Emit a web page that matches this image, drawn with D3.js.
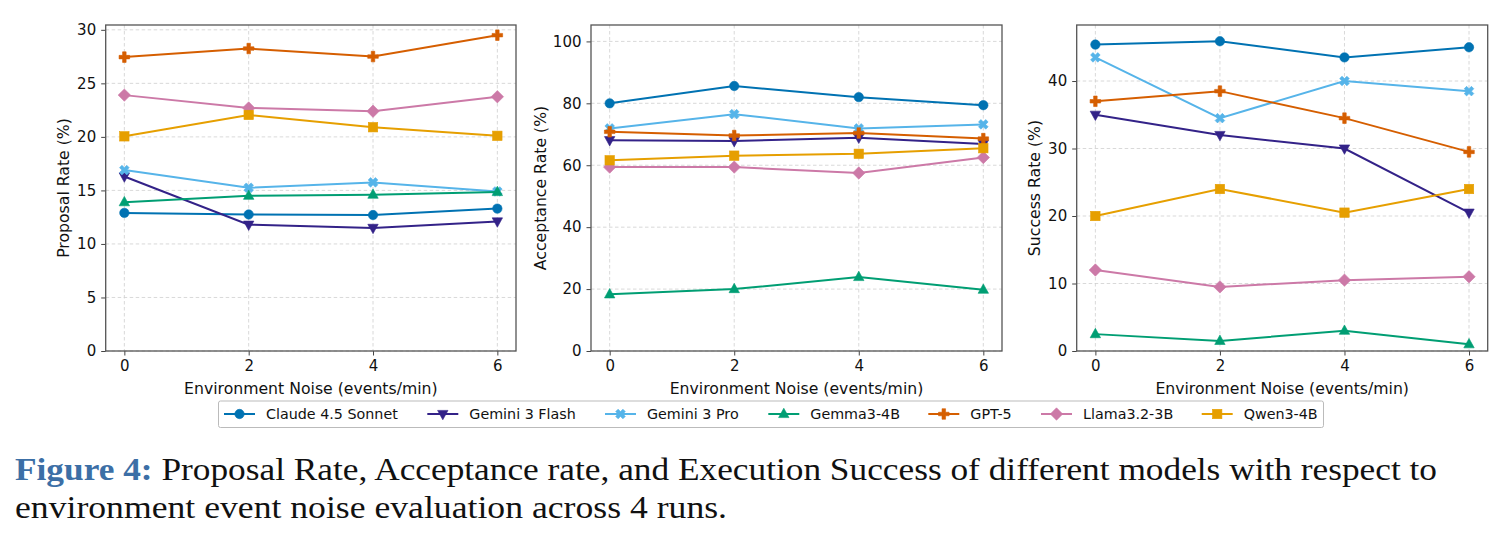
<!DOCTYPE html>
<html>
<head>
<meta charset="utf-8">
<script src="https://cdn.jsdelivr.net/npm/d3@7"></script>
<style>
  body { margin: 0; background: #fff; }
  svg { display: block; }
</style>
</head>
<body>
<div id="chart"></div>
<script>
// noise levels (events/min)
const noise = [0, 2, 4, 6];

const models = ["Claude 4.5 Sonnet", "Gemini 3 Flash", "Gemini 3 Pro", "Gemma3-4B", "GPT-5", "Llama3.2-3B", "Qwen3-4B"];
const colors = ["#0072B2", "#332288", "#56B4E9", "#009E73", "#D55E00", "#CC79A7", "#E69F00"];
const markers = ["circle", "triangleDown", "x", "triangleUp", "plus", "diamond", "square"];

// one row per model, same order as `models`
const proposalRate = [
  [12.9, 12.75, 12.7, 13.3],
  [16.3, 11.8, 11.5, 12.1],
  [16.9, 15.25, 15.75, 14.9],
  [13.9, 14.5, 14.6, 14.85],
  [27.45, 28.25, 27.5, 29.5],
  [23.9, 22.7, 22.4, 23.75],
  [20.05, 22.05, 20.9, 20.1]
];
const acceptanceRate = [
  [80.0, 85.6, 82.0, 79.4],
  [68.1, 67.8, 68.9, 66.9],
  [71.9, 76.5, 71.9, 73.2],
  [18.3, 20.0, 23.9, 19.8],
  [70.8, 69.6, 70.4, 68.6],
  [59.4, 59.4, 57.5, 62.5],
  [61.6, 63.1, 63.7, 65.5]
];
const successRate = [
  [45.4, 45.9, 43.5, 45.0],
  [35.0, 32.0, 30.0, 20.5],
  [43.5, 34.5, 40.0, 38.5],
  [2.5, 1.5, 3.0, 1.0],
  [37.0, 38.5, 34.5, 29.5],
  [12.0, 9.5, 10.5, 11.0],
  [20.0, 24.0, 20.5, 24.0]
];

const yLabels = ["Proposal Rate (%)", "Acceptance Rate (%)", "Success Rate (%)"];
const yTicks = [d3.range(0, 31, 5), d3.range(0, 101, 20), d3.range(0, 41, 10)];
const yMax = [30.45, 105.3, 48.3];
const xLabel = "Environment Noise (events/min)";

const W = 1509, H = 538;
const svg = d3.select("#chart").append("svg")
  .attr("width", W).attr("height", H)
  .style("font-family", "'DejaVu Sans', sans-serif");

const frames = [
  {left: 105.7, right: 516, labelX: 63.3},
  {left: 591, right: 1002, labelX: 540},
  {left: 1076.7, right: 1487.7, labelX: 1034}
];
const plotTop = 25, plotBottom = 351;
const panelData = [proposalRate, acceptanceRate, successRate];

function markerPath(kind, g, color) {
  let m;
  if (kind === "circle") {
    m = g.append("circle").attr("r", 4.7);
  } else if (kind === "square") {
    m = g.append("rect").attr("x", -4.7).attr("y", -4.7).attr("width", 9.4).attr("height", 9.4);
  } else if (kind === "diamond") {
    m = g.append("path").attr("d", "M0,-6.2L6.2,0L0,6.2L-6.2,0Z");
  } else if (kind === "triangleUp") {
    m = g.append("path").attr("d", "M0,-5.8L5.2,3.6L-5.2,3.6Z");
  } else if (kind === "triangleDown") {
    m = g.append("path").attr("d", "M0,5.8L5.2,-3.6L-5.2,-3.6Z");
  } else if (kind === "plus") {
    m = g.append("path").attr("d", d3.symbol(d3.symbolCross, 62)());
  } else {
    m = g.append("path").attr("d", d3.symbol(d3.symbolCross, 58)()).attr("transform", "rotate(45)");
  }
  m.attr("fill", color).attr("stroke", color).attr("stroke-width", 0.6);
}

frames.forEach((f, p) => {
  const x = d3.scaleLinear().domain([-0.3, 6.3]).range([f.left, f.right]);
  const y = d3.scaleLinear().domain([0, yMax[p]]).range([plotBottom, plotTop]);
  const g = svg.append("g");

  // grid
  g.append("g").selectAll("line").data(noise).join("line")
    .attr("x1", d => x(d)).attr("x2", d => x(d))
    .attr("y1", plotTop).attr("y2", plotBottom)
    .attr("stroke", "#cfcfcf").attr("stroke-width", 0.8).attr("stroke-dasharray", "3.5,2.5");
  g.append("g").selectAll("line").data(yTicks[p]).join("line")
    .attr("x1", f.left).attr("x2", f.right)
    .attr("y1", d => y(d)).attr("y2", d => y(d))
    .attr("stroke", "#cfcfcf").attr("stroke-width", 0.8).attr("stroke-dasharray", "3.5,2.5");

  // axes
  const ax = g.append("g").attr("transform", `translate(0,${plotBottom})`)
    .call(d3.axisBottom(x).tickValues(noise).tickFormat(d3.format("d")).tickSize(4.5).tickPadding(5));
  const ay = g.append("g").attr("transform", `translate(${f.left},0)`)
    .call(d3.axisLeft(y).tickValues(yTicks[p]).tickFormat(d3.format("d")).tickSize(4.5).tickPadding(5));
  [ax, ay].forEach(a => {
    a.select(".domain").remove();
    a.selectAll(".tick line").attr("stroke", "#444").attr("stroke-width", 1);
    a.selectAll(".tick text").attr("fill", "#111").style("font-size", "15px")
      .style("font-family", "'DejaVu Sans', sans-serif");
  });

  // series
  panelData[p].forEach((vals, i) => {
    const pts = noise.map((n, k) => [n, vals[k]]);
    g.append("path").datum(pts)
      .attr("fill", "none").attr("stroke", colors[i]).attr("stroke-width", 2)
      .attr("d", d3.line().x(d => x(d[0])).y(d => y(d[1])));
    pts.forEach(d => {
      const mg = g.append("g").attr("transform", `translate(${x(d[0])},${y(d[1])})`);
      markerPath(markers[i], mg, colors[i]);
    });
  });

  // frame
  g.append("rect").attr("x", f.left).attr("y", plotTop)
    .attr("width", f.right - f.left).attr("height", plotBottom - plotTop)
    .attr("fill", "none").attr("stroke", "#555").attr("stroke-width", 1.3);

  // labels
  g.append("text").attr("x", (f.left + f.right) / 2).attr("y", 394)
    .attr("text-anchor", "middle").style("font-size", "15.7px").attr("fill", "#111")
    .text(xLabel);
  g.append("text")
    .attr("transform", `translate(${f.labelX},${(plotTop + plotBottom) / 2}) rotate(-90)`)
    .attr("text-anchor", "middle").attr("dy", "0.35em")
    .style("font-size", "15.7px").attr("fill", "#111")
    .text(yLabels[p]);
});

const legendX = [224, 427.3, 605, 768.3, 928.3, 1041, 1201.7];
const lg = svg.append("g");
lg.append("rect").attr("x", 218.5).attr("y", 401)
  .attr("width", 1105).attr("height", 26.5).attr("rx", 2)
  .attr("fill", "#fff").attr("stroke", "#bbb").attr("stroke-width", 1);
models.forEach((m, i) => {
  const lx = legendX[i];
  const e = lg.append("g");
  e.append("line").attr("x1", lx).attr("x2", lx + 31).attr("y1", 414).attr("y2", 414)
    .attr("stroke", colors[i]).attr("stroke-width", 2);
  const mg = e.append("g").attr("transform", `translate(${lx + 15.5},414)`);
  markerPath(markers[i], mg, colors[i]);
  e.append("text").attr("x", lx + 42).attr("y", 419)
    .style("font-size", "14.3px").attr("fill", "#111").text(m);
});

// caption
const cap = svg.append("g").style("font-family", "'Liberation Serif', serif").style("font-size", "32px");
const c1 = cap.append("text").attr("x", 15).attr("y", 480)
  .attr("textLength", 1422).attr("lengthAdjust", "spacingAndGlyphs");
c1.append("tspan").attr("fill", "#3c6fa6").attr("font-weight", "bold").text("Figure 4:");
c1.append("tspan").attr("fill", "#111").text(" Proposal Rate, Acceptance rate, and Execution Success of different models with respect to");
cap.append("text").attr("x", 15).attr("y", 518).attr("fill", "#111")
  .attr("textLength", 712).attr("lengthAdjust", "spacingAndGlyphs")
  .text("environment event noise evaluation across 4 runs.");
</script>
</body>
</html>
